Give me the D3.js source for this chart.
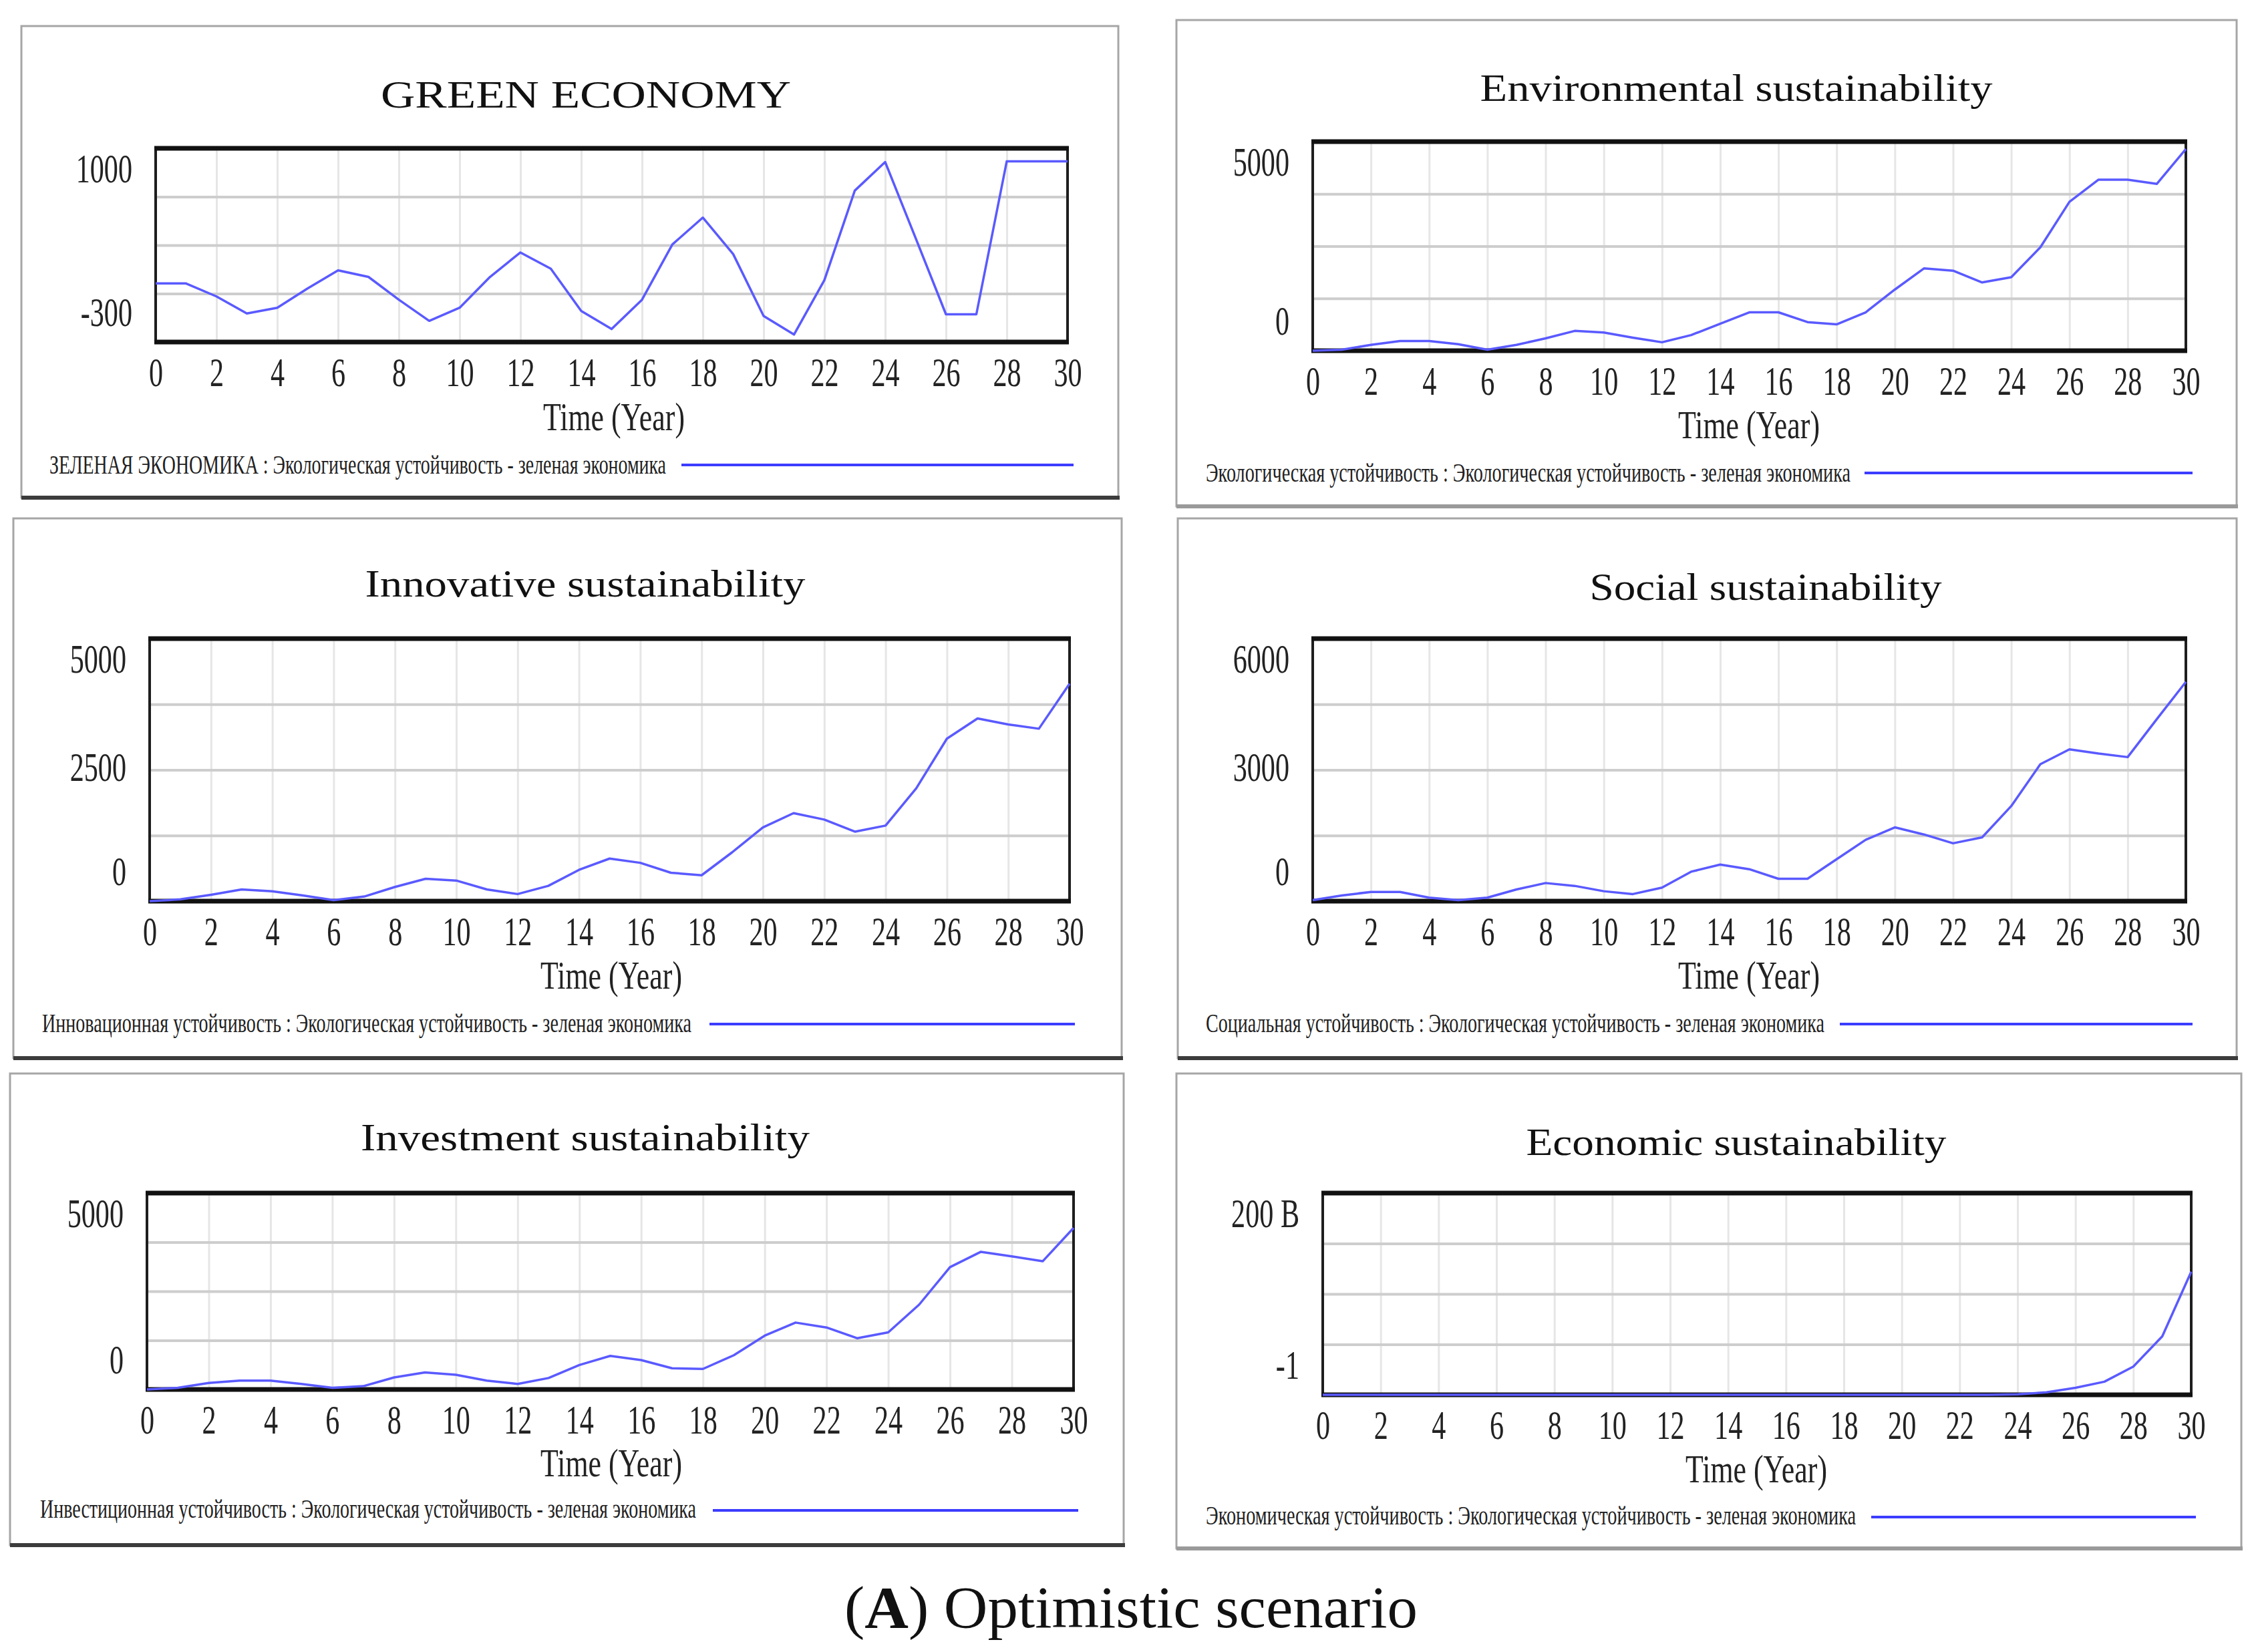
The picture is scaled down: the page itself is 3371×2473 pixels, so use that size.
<!DOCTYPE html>
<html>
<head>
<meta charset="utf-8">
<script src="https://cdn.jsdelivr.net/npm/d3@7/dist/d3.min.js"></script>
<style>
  body { margin: 0; background: #fff; }
  svg { display: block; }
</style>
</head>
<body>
<svg id="chart" width="3371" height="2473"></svg>
<script>
// ---- data (annual points, years 0..30) ----
const years = [0,1,2,3,4,5,6,7,8,9,10,11,12,13,14,15,16,17,18,19,20,21,22,23,24,25,26,27,28,29,30];
const xTicks = [0,2,4,6,8,10,12,14,16,18,20,22,24,26,28,30];

const greenEconomy = [93,93,6,-108,-70,60,181,137,-16,-158,-70,137,301,192,-92,-213,-16,355,535,290,-125,-250,115,716,908,399,-114,-114,913,913,913];
const environmental = [0,23,140,233,233,155,23,140,295,474,435,311,202,373,645,918,918,684,630,918,1462,1967,1913,1633,1757,2473,3561,4090,4090,3989,4821];
const innovative = [0,34,122,223,189,108,20,88,270,426,392,223,135,291,595,811,730,541,493,932,1405,1676,1554,1324,1439,2149,3095,3480,3365,3284,4142];
const social = [24,130,211,211,81,24,81,268,414,349,227,162,308,673,835,730,511,511,957,1403,1686,1524,1322,1459,2173,3130,3470,3373,3292,4159,5011];
const investment = [0,42,166,224,224,141,42,83,307,432,374,224,141,291,623,855,748,540,523,872,1370,1703,1578,1304,1454,2160,3115,3505,3389,3264,4111];
const economic = [0,0,0,0,0,0,0,0,0,0,0,0,0,0,0,0,0,0,0,0,0,0,0,0,0.5e9,2.5e9,7e9,13e9,28e9,58e9,122e9];

const titles = ["GREEN ECONOMY","Environmental sustainability","Innovative sustainability","Social sustainability","Investment sustainability","Economic sustainability"];
const legends = [
  "ЗЕЛЕНАЯ ЭКОНОМИКА : Экологическая устойчивость - зеленая экономика",
  "Экологическая устойчивость : Экологическая устойчивость - зеленая экономика",
  "Инновационная устойчивость : Экологическая устойчивость - зеленая экономика",
  "Социальная устойчивость : Экологическая устойчивость - зеленая экономика",
  "Инвестиционная устойчивость : Экологическая устойчивость - зеленая экономика",
  "Экономическая устойчивость : Экологическая устойчивость - зеленая экономика"
];
const yDomains = [[-300,1000],[0,5000],[0,5000],[0,6000],[0,5000],[-1,200e9]];
const yTickValues = [[-300,1000],[0,5000],[0,2500,5000],[0,3000,6000],[0,5000],[-1,200e9]];
const yTickLabels = [["-300","1000"],["0","5000"],["0","2500","5000"],["0","3000","6000"],["0","5000"],["-1","200 B"]];
const xLabel = "Time (Year)";
const series = [greenEconomy, environmental, innovative, social, investment, economic];

// ---- layout (pixels) ----
const layout = [
  { box:[32,39,1674,745],    plot:[233,222,1598,512],    titleX:877,  titleY:161,  titleW:614, timeX:919,  timeY:644,  legX:74,   legY:709,  legW:923, legLine:[1020,1607,696],  shadow:"#3c3c3c" },
  { box:[1761,30,3348,758],  plot:[1965,212,3272,525],   titleX:2599, titleY:151,  titleW:767, timeX:2618, timeY:656,  legX:1805, legY:721,  legW:965, legLine:[2791,3282,708],  shadow:"#9a9a9a" },
  { box:[20,776,1679,1584],  plot:[224,956,1601,1349],   titleX:876,  titleY:893,  titleW:659, timeX:915,  timeY:1480, legX:63,   legY:1545, legW:972, legLine:[1062,1609,1533], shadow:"#3c3c3c" },
  { box:[1763,776,3348,1584],plot:[1965,956,3272,1349],  titleX:2643, titleY:898,  titleW:527, timeX:2618, timeY:1480, legX:1805, legY:1545, legW:926, legLine:[2754,3282,1533], shadow:"#3c3c3c" },
  { box:[15,1607,1682,2313], plot:[220,1786,1607,2080],  titleX:876,  titleY:1722, titleW:672, timeX:915,  timeY:2210, legX:60,   legY:2272, legW:982, legLine:[1067,1614,2261], shadow:"#3c3c3c" },
  { box:[1761,1607,3355,2318],plot:[1980,1786,3280,2088],titleX:2599, titleY:1729, titleW:629, timeX:2629, timeY:2219, legX:1805, legY:2282, legW:973, legLine:[2801,3287,2271], shadow:"#9a9a9a" }
];

const svg = d3.select("#chart");
const serif = "'Liberation Serif', 'Times New Roman', serif";

function squeeze(sel, k) {
  sel.each(function () {
    const w = this.getComputedTextLength();
    d3.select(this).attr("textLength", w * k).attr("lengthAdjust", "spacingAndGlyphs");
  });
}

layout.forEach((L, i) => {
  const g = svg.append("g");
  const [bx0, by0, bx1, by1] = L.box;
  const [px0, py0, px1, py1] = L.plot;

  // panel frame with shadow edge
  g.append("rect")
    .attr("x", bx0).attr("y", by0).attr("width", bx1 - bx0).attr("height", by1 - by0)
    .attr("fill", "#fff").attr("stroke", "#a6a6a6").attr("stroke-width", 3);
  g.append("line")
    .attr("x1", bx0).attr("x2", bx1 + 2).attr("y1", by1).attr("y2", by1)
    .attr("stroke", L.shadow).attr("stroke-width", 6);

  // scales
  const x = d3.scaleLinear().domain([0, 30]).range([px0, px1]);
  const y = d3.scaleLinear().domain(yDomains[i]).range([py1, py0]);
  const d = yDomains[i];
  const hGrid = [1, 2, 3].map(k => d[0] + k * (d[1] - d[0]) / 4);

  // vertical grid
  g.append("g")
    .attr("transform", `translate(0,${py1})`)
    .call(d3.axisBottom(x).tickValues(xTicks.slice(1, -1)).tickSize(-(py1 - py0)).tickFormat(""))
    .call(a => a.select(".domain").remove())
    .selectAll("line").attr("stroke", "#e6e6e6").attr("stroke-width", 3);

  // horizontal grid
  g.append("g")
    .attr("transform", `translate(${px0},0)`)
    .call(d3.axisLeft(y).tickValues(hGrid).tickSize(-(px1 - px0)).tickFormat(""))
    .call(a => a.select(".domain").remove())
    .selectAll("line").attr("stroke", "#cdcdcd").attr("stroke-width", 4);

  // plot frame
  g.append("rect")
    .attr("x", px0).attr("y", py0).attr("width", px1 - px0).attr("height", py1 - py0)
    .attr("fill", "none").attr("stroke", "#1e1e1e").attr("stroke-width", 4);
  g.append("line").attr("x1", px0 - 2).attr("x2", px1 + 2).attr("y1", py0).attr("y2", py0)
    .attr("stroke", "#111").attr("stroke-width", 7);
  g.append("line").attr("x1", px0 - 2).attr("x2", px1 + 2).attr("y1", py1).attr("y2", py1)
    .attr("stroke", "#111").attr("stroke-width", 7);

  // data line
  const line = d3.line().x((v, j) => x(years[j])).y(v => y(v));
  g.append("path")
    .datum(series[i])
    .attr("d", line)
    .attr("fill", "none")
    .attr("stroke", "#5a5aff")
    .attr("stroke-width", 3.5)
    .attr("stroke-linejoin", "round");

  // x axis labels
  const xa = g.append("g")
    .attr("transform", `translate(0,${py1})`)
    .call(d3.axisBottom(x).tickValues(xTicks).tickSize(0).tickFormat(d3.format("d")));
  xa.select(".domain").remove();
  xa.selectAll("text")
    .attr("y", 66).attr("dy", null)
    .attr("font-family", serif).attr("font-size", 62).attr("fill", "#222")
    .call(squeeze, 0.68);

  // y axis labels (Vensim puts min/max labels just inside the ends)
  const labels = yTickLabels[i];
  const ya = g.append("g")
    .attr("transform", `translate(${px0},0)`)
    .call(d3.axisLeft(y).tickValues(yTickValues[i]).tickSize(0)
      .tickFormat((v, j) => labels[j]));
  ya.select(".domain").remove();
  ya.selectAll("text")
    .attr("x", -35)
    .attr("y", v => v === d[1] ? 34 : (v === d[0] ? -41 : 0))
    .attr("dy", "0.26em")
    .attr("font-family", serif).attr("font-size", 62).attr("fill", "#222")
    .call(squeeze, 0.68);

  // title
  g.append("text")
    .attr("x", L.titleX).attr("y", L.titleY)
    .attr("text-anchor", "middle")
    .attr("font-family", serif).attr("font-size", 56).attr("fill", "#111")
    .attr("textLength", L.titleW).attr("lengthAdjust", "spacingAndGlyphs")
    .text(titles[i]);

  // x axis title
  g.append("text")
    .attr("x", L.timeX).attr("y", L.timeY)
    .attr("text-anchor", "middle")
    .attr("font-family", serif).attr("font-size", 60).attr("fill", "#222")
    .attr("textLength", 212).attr("lengthAdjust", "spacingAndGlyphs")
    .text(xLabel);

  // legend
  g.append("text")
    .attr("x", L.legX).attr("y", L.legY)
    .attr("font-family", serif).attr("font-size", 40).attr("fill", "#222")
    .attr("textLength", L.legW).attr("lengthAdjust", "spacingAndGlyphs")
    .text(legends[i]);
  g.append("line")
    .attr("x1", L.legLine[0]).attr("x2", L.legLine[1])
    .attr("y1", L.legLine[2]).attr("y2", L.legLine[2])
    .attr("stroke", "#3c3cff").attr("stroke-width", 4);
});

// caption
const cap = svg.append("text")
  .attr("x", 1693).attr("y", 2436)
  .attr("text-anchor", "middle")
  .attr("font-family", serif).attr("font-size", 88).attr("fill", "#111")
  .attr("textLength", 858).attr("lengthAdjust", "spacingAndGlyphs");
cap.append("tspan").text("(");
cap.append("tspan").attr("font-weight", "bold").text("A");
cap.append("tspan").text(") Optimistic scenario");
</script>
</body>
</html>
